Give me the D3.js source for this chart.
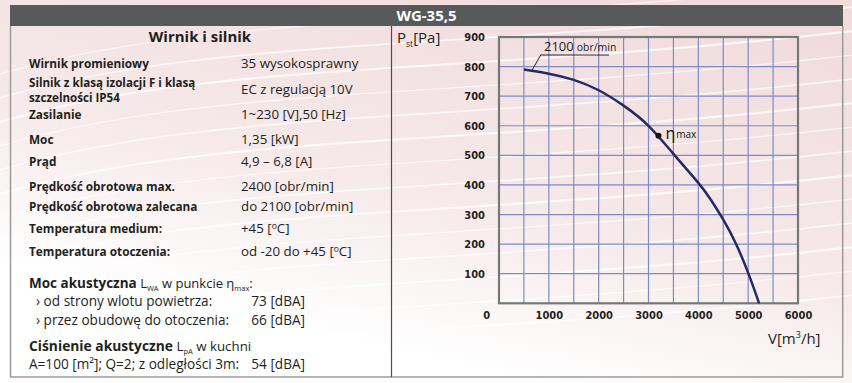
<!DOCTYPE html>
<html><head><meta charset="utf-8">
<script src="https://cdn.jsdelivr.net/npm/d3@7"></script>
<style>
html,body{margin:0;padding:0;background:#fff;}
svg{display:block;}
text{font-family:"Open Sans","Noto Sans",sans-serif;fill:#231f20;}
.tick text{font-family:"Liberation Sans Narrow","DejaVu Sans Condensed","Liberation Sans",sans-serif;}
</style></head>
<body>
<svg id="c" width="852" height="383"></svg>
<script>
// ---- data ----
const title = "WG-35,5";
const flow = [500, 1000, 1500, 2000, 2500, 3000, 3500, 4000, 4250, 4500, 4750, 5000, 5220];      // V [m3/h]
const pressure = [790, 776, 755, 720, 668, 600, 505, 407, 350, 283, 203, 103, 0];               // Pst [Pa]
const etaMax = [3200, 566];
const xTicks = [1000, 2000, 3000, 4000, 5000, 6000];
const yTicks = [100, 200, 300, 400, 500, 600, 700, 800, 900];
const xGrid = [500, 1000, 1500, 2000, 2500, 3000, 3500, 4000, 4500, 5000, 5500];
const yGrid = [100, 200, 300, 400, 500, 600, 700, 800];
const specLabels = ["Wirnik promieniowy", ["Silnik z klasą izolacji F i klasą", "szczelności IP54"], "Zasilanie", "Moc", "Prąd",
  "Prędkość obrotowa max.", "Prędkość obrotowa zalecana", "Temperatura medium:", "Temperatura otoczenia:"];
const specValues = ["35 wysokosprawny", "EC z regulacją 10V", "1~230 [V],50 [Hz]", "1,35 [kW]", "4,9 – 6,8 [A]",
  "2400 [obr/min]", "do 2100 [obr/min]", "+45 [|C]", "od -20 do +45 [|C]"];
const noiseLabels = ["› od strony wlotu powietrza:", "› przez obudowę do otoczenia:"];
const noiseValues = ["73 [dBA]", "66 [dBA]"];

const svg = d3.select("#c");
const defs = svg.append("defs");
const g1 = defs.append("linearGradient").attr("id", "bg").attr("x1", 0.75).attr("y1", 0).attr("x2", 0.25).attr("y2", 1);
g1.append("stop").attr("offset", 0).attr("stop-color", "#f1dcdd");
g1.append("stop").attr("offset", 0.5).attr("stop-color", "#f6e9e9");
g1.append("stop").attr("offset", 0.85).attr("stop-color", "#ffffff");
svg.append("rect").attr("width", 852).attr("height", 383).attr("fill", "url(#bg)");

// decorative white swooshes
const sw = svg.append("g").attr("fill", "none").attr("stroke", "#fff").attr("stroke-opacity", 0.75);
for (let i = 0; i < 14; i++) {
  const y0 = 20 + i * 24;
  sw.append("path").attr("stroke-width", 1.2 + (i % 3) * 0.5)
    .attr("d", `M-20,${y0 + 60} C200,${y0 - 10} 450,${y0 + 10} 880,${y0 - 40}`);
}

// header
svg.append("rect").attr("x", 10).attr("y", 5).attr("width", 833).attr("height", 21).attr("fill", "#58595b");
svg.append("text").attr("x", 426.5).attr("y", 21).attr("text-anchor", "middle")
  .style("fill", "#fff").style("font-weight", 700).style("font-size", "15px").text(title);

// box borders
const bc = "#9c9a9a";
svg.append("line").attr("x1", 10.5).attr("x2", 10.5).attr("y1", 26).attr("y2", 377).attr("stroke", bc).attr("stroke-width", 1.5);
svg.append("line").attr("x1", 842.7).attr("x2", 842.7).attr("y1", 26).attr("y2", 377).attr("stroke", bc).attr("stroke-width", 1.5);
svg.append("line").attr("x1", 10).attr("x2", 843.3).attr("y1", 377).attr("y2", 377).attr("stroke", bc).attr("stroke-width", 1.5);
svg.append("line").attr("x1", 391.5).attr("x2", 391.5).attr("y1", 26).attr("y2", 377).attr("stroke", "#4d4d4d").attr("stroke-width", 1.2);

// left panel
svg.append("text").attr("x", 200).attr("y", 42).attr("text-anchor", "middle")
  .style("font-weight", 700).style("font-size", "15px").text("Wirnik i silnik");

const labelY = [68, [86.5, 101.5], 119, 144, 166, 191, 211, 233, 256];
const valueY = [68, 93.5, 119, 144, 166, 191, 211, 233, 256];
function addVal(t, x, y, size) {
  const el = svg.append("text").attr("x", x).attr("y", y).style("font-size", size);
  const parts = t.split("|");
  el.append("tspan").text(parts[0]);
  if (parts.length > 1) {
    el.append("tspan").attr("dy", -4).style("font-size", "8.5px").text("o");
    el.append("tspan").attr("dy", 4).text(parts[1]);
  }
}
specLabels.forEach((l, i) => {
  const ls = Array.isArray(l) ? l : [l];
  const ys = Array.isArray(labelY[i]) ? labelY[i] : [labelY[i]];
  ls.forEach((s, j) => svg.append("text").attr("x", 29).attr("y", ys[j])
    .style("font-weight", 700).style("font-size", ls.length > 1 ? "11.6px" : "11.8px").text(s));
  addVal(specValues[i], 241, valueY[i], "13.3px");
});

// acoustic section
const t1 = svg.append("text").attr("x", 29).attr("y", 287.5).style("font-size", "13px");
t1.append("tspan").style("font-weight", 700).style("font-size", "13.5px").text("Moc akustyczna");
t1.append("tspan").text(" L");
t1.append("tspan").attr("dy", 3).style("font-size", "7.5px").text("WA");
t1.append("tspan").attr("dy", -3).text(" w punkcie η");
t1.append("tspan").attr("dy", 3).style("font-size", "7.5px").text("max");
t1.append("tspan").attr("dy", -3).text(":");
noiseLabels.forEach((l, i) => {
  svg.append("text").attr("x", 36).attr("y", 306 + i * 18.5).style("font-size", "13.6px").text(l);
  svg.append("text").attr("x", 305).attr("y", 306 + i * 18.5).attr("text-anchor", "end").style("font-size", "13.6px").text(noiseValues[i]);
});
const t2 = svg.append("text").attr("x", 29).attr("y", 351).style("font-size", "13.3px");
t2.append("tspan").style("font-weight", 700).style("font-size", "13.8px").text("Ciśnienie akustyczne");
t2.append("tspan").text(" L");
t2.append("tspan").attr("dy", 2.5).style("font-size", "7.5px").text("pA");
t2.append("tspan").attr("dy", -2.5).text(" w kuchni");
svg.append("text").attr("x", 29).attr("y", 369).style("font-size", "13.6px").text("A=100 [m²]; Q=2; z odległości 3m:");
svg.append("text").attr("x", 305).attr("y", 369).attr("text-anchor", "end").style("font-size", "13.6px").text("54 [dBA]");

// chart
const x = d3.scaleLinear().domain([0, 6000]).range([499, 798]);
const y = d3.scaleLinear().domain([0, 900]).range([303.3, 37]);

const grid = svg.append("g").attr("stroke", "#7d8bca").attr("stroke-width", 1.2);
xGrid.forEach(v => grid.append("line").attr("x1", x(v)).attr("x2", x(v)).attr("y1", y(900)).attr("y2", y(0)));
yGrid.forEach(v => grid.append("line").attr("x1", x(0)).attr("x2", x(6000)).attr("y1", y(v)).attr("y2", y(v)));
svg.append("rect").attr("x", x(0)).attr("y", y(900)).attr("width", x(6000) - x(0)).attr("height", y(0) - y(900))
  .attr("fill", "none").attr("stroke", "#777").attr("stroke-width", 2.2);

const yAxis = svg.append("g").attr("transform", `translate(${x(0)},0)`)
  .call(d3.axisLeft(y).tickValues(yTicks).tickSize(0).tickPadding(14).tickFormat(d3.format("d")));
const xAxis = svg.append("g").attr("transform", `translate(0,${y(0)})`)
  .call(d3.axisBottom(x).tickValues(xTicks).tickSize(0).tickPadding(8).tickFormat(d3.format("d")));
[yAxis, xAxis].forEach(a => {
  a.select(".domain").remove();
  a.selectAll("text").style("font-size", "11px").style("font-weight", 700).attr("fill", "#231f20");
});
svg.append("text").attr("x", 486.7).attr("y", 318.5).attr("text-anchor", "middle")
  .style("font-family", "'Liberation Sans Narrow','DejaVu Sans Condensed',sans-serif").style("font-size", "11px").style("font-weight", 700).text("0");

// curve
const pts = flow.map((f, i) => [f, pressure[i]]);
svg.append("path").datum(pts).attr("fill", "none").attr("stroke", "#232a66").attr("stroke-width", 2.5)
  .attr("d", d3.line().x(d => x(d[0])).y(d => y(d[1])).curve(d3.curveNatural));

// eta max
svg.append("circle").attr("cx", x(etaMax[0])).attr("cy", y(etaMax[1])).attr("r", 3).attr("fill", "#111");
const te = svg.append("text").attr("x", x(etaMax[0]) + 7).attr("y", y(etaMax[1]) + 3).style("font-size", "16px").style("fill", "#111");
te.append("tspan").style("fill", "#111").text("η");
te.append("tspan").style("font-size", "10px").style("fill", "#111").attr("dx", 1).attr("dy", -1).text("max");

// speed label
const sx = x(flow[0]), sy = y(pressure[0]);
svg.append("line").attr("x1", sx + 8).attr("y1", sy + 1).attr("x2", 540.7).attr("y2", 55).attr("stroke", "#111").attr("stroke-width", 0.9);
svg.append("line").attr("x1", 540.7).attr("y1", 55).attr("x2", 609).attr("y2", 55).attr("stroke", "#111").attr("stroke-width", 0.9);
const ts = svg.append("text").attr("x", 544).attr("y", 50.5).style("font-size", "13px");
ts.append("tspan").text("2100");
ts.append("tspan").attr("dx", 3).style("font-size", "10.5px").text("obr/min");

// axis titles
const tp = svg.append("text").attr("x", 397).attr("y", 43).style("font-size", "15px");
tp.append("tspan").text("P");
tp.append("tspan").attr("dy", 4).style("font-size", "8.5px").text("st");
tp.append("tspan").attr("dy", -4).text("[Pa]");
const tv = svg.append("text").attr("x", 768).attr("y", 343.5).style("font-size", "15px");
tv.append("tspan").text("V[m");
tv.append("tspan").attr("dy", -6).style("font-size", "9px").text("3");
tv.append("tspan").attr("dy", 6).text("/h]");
</script>
</body></html>
